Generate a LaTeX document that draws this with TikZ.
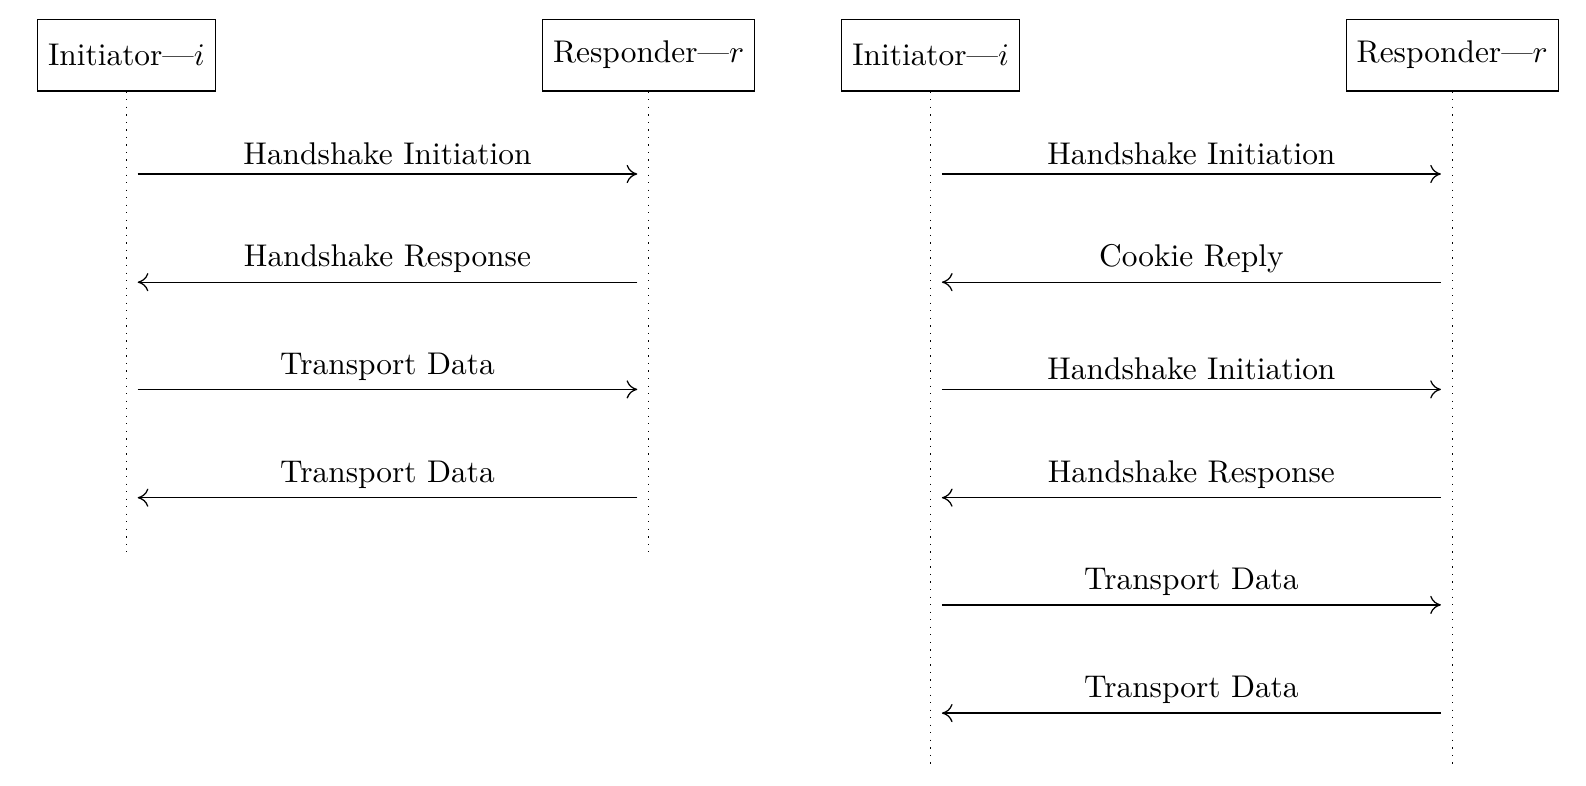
\documentclass[tikz,border=0pt]{standalone}
\usetikzlibrary{arrows.meta}
\begin{document}
\begin{tikzpicture}[x=0.3185pt,y=-0.3185pt,
  actor/.style={draw, minimum height=22.9pt, inner xsep=3.33pt},
  life/.style={dotted},
  msg/.style={-{To[length=3.4pt,width=5.8pt]}, shorten <=3.6pt, shorten >=3.6pt},
  lbl/.style={above, yshift=-0.6pt}]
\useasboundingbox (0,0) rectangle (1586,786);

% participants of the plain exchange
\node[actor] (iA) at (126.4,55.1) {Initiator---$i$};
\node[actor] (rA) at (648.6,55.1) {Responder---$r$};
% participants of the exchange under load (cookie)
\node[actor] (iB) at (930.6,55.1) {Initiator---$i$};
\node[actor] (rB) at (1452.2,55.1) {Responder---$r$};

% lifeline ends
\coordinate (iAend) at (126.4,552);
\coordinate (rAend) at (648.6,552);
\coordinate (iBend) at (930.6,769);
\coordinate (rBend) at (1452.2,769);
\draw[life] (iA.south) -- (iAend);
\draw[life] (rA.south) -- (rAend);
\draw[life] (iB.south) -- (iBend);
\draw[life] (rB.south) -- (rBend);

% message rows on the lifelines
\foreach \k/\y in {1/174,2/282.2,3/389.4,4/497.7,5/604.9,6/713.1}{
  \coordinate (iA\k) at (126.4,\y);
  \coordinate (rA\k) at (648.6,\y);
  \coordinate (iB\k) at (930.6,\y);
  \coordinate (rB\k) at (1452.2,\y);
}

% plain handshake
\draw[msg] (iA1) -- node[lbl] {Handshake Initiation} (rA1);
\draw[msg] (rA2) -- node[lbl] {Handshake Response} (iA2);
\draw[msg] (iA3) -- node[lbl] {Transport Data} (rA3);
\draw[msg] (rA4) -- node[lbl] {Transport Data} (iA4);

% handshake with cookie reply
\draw[msg] (iB1) -- node[lbl] {Handshake Initiation} (rB1);
\draw[msg] (rB2) -- node[lbl] {Cookie Reply} (iB2);
\draw[msg] (iB3) -- node[lbl] {Handshake Initiation} (rB3);
\draw[msg] (rB4) -- node[lbl] {Handshake Response} (iB4);
\draw[msg] (iB5) -- node[lbl] {Transport Data} (rB5);
\draw[msg] (rB6) -- node[lbl] {Transport Data} (iB6);
\end{tikzpicture}
\end{document}
